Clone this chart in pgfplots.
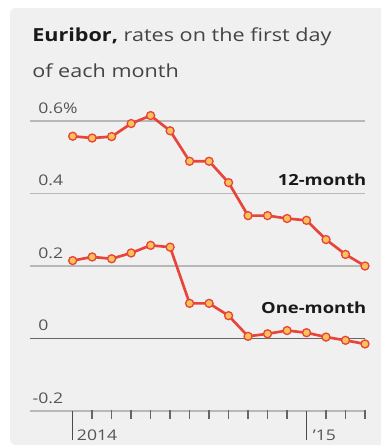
\documentclass[border=0pt]{standalone}
\usepackage{fontspec}
\setmainfont{Open Sans}[FakeStretch=1.2]
\usepackage{pgfplots}
\pgfplotsset{compat=1.18}
\definecolor{bg}{HTML}{F0F0F0}
\definecolor{linered}{HTML}{E8443A}
\definecolor{markfill}{HTML}{F9C358}
\definecolor{gridc}{HTML}{B8B8B8}
\definecolor{tickc}{HTML}{555555}
\definecolor{titlec}{HTML}{444444}
\begin{document}
\begin{tikzpicture}
\useasboundingbox (0pt,0pt) rectangle (285pt,-335.25pt);
\fill[bg,rounded corners=4.5pt] (7.5pt,-6pt) rectangle (295pt,-333.75pt);
\node[anchor=base west, inner sep=0, text=titlec, font=\fontsize{13.5}{16}\selectfont] at (24pt,-30.75pt) {\textcolor{black!90}{\textbf{Euribor,}} rates on the first day};
\node[anchor=base west, inner sep=0, text=titlec, font=\fontsize{13.5}{16}\selectfont] at (24pt,-57.75pt) {of each month};
\begin{axis}[
  at={(22.5pt,-308.25pt)}, anchor=south west,
  scale only axis, width=251.25pt, height=217.5pt,
  xmin=-2.19, xmax=15, ymin=-0.2, ymax=0.6,
  clip=false,
  axis line style={draw=none},
  ymajorgrids, grid style={gridc, line width=0.8pt},
  ytick={-0.2,0,0.2,0.4,0.6},
  yticklabels={\llap{-}0.2,0,0.2,0.4,0.6\%},
  yticklabel style={anchor=base west, inner sep=0pt, xshift=6pt, yshift=6pt, text=tickc, font=\fontsize{11}{13}\selectfont},
  ytick pos=left,
  major y tick style={draw=none},
  xtick=\empty,
  unbounded coords=jump,
]
\addplot[color=black!60, line width=0.9pt, forget plot] coordinates {(-2.19,0) (15,0)};
\addplot[color=black!60, line width=1pt, forget plot] coordinates {
(1,-0.196) (1,-0.222) (nan,nan) (2,-0.196) (2,-0.222) (nan,nan)
(3,-0.196) (3,-0.222) (nan,nan) (4,-0.196) (4,-0.222) (nan,nan)
(5,-0.196) (5,-0.222) (nan,nan) (6,-0.196) (6,-0.222) (nan,nan)
(7,-0.196) (7,-0.222) (nan,nan) (8,-0.196) (8,-0.222) (nan,nan)
(9,-0.196) (9,-0.222) (nan,nan) (10,-0.196) (10,-0.222) (nan,nan)
(11,-0.196) (11,-0.222) (nan,nan) (13,-0.196) (13,-0.222) (nan,nan)
(14,-0.196) (14,-0.222) (nan,nan) (15,-0.196) (15,-0.222)};
\addplot[color=black!70, line width=1.1pt, forget plot] coordinates {
(0,-0.2) (0,-0.28) (nan,nan) (12,-0.2) (12,-0.28)};
\addplot[linered, line width=2pt, mark=*, mark size=3pt, mark options={fill=markfill, draw=linered, line width=1pt}] coordinates {
(0,0.558) (1,0.553) (2,0.557) (3,0.593) (4,0.615) (5,0.573) (6,0.489) (7,0.489)
(8,0.430) (9,0.339) (10,0.339) (11,0.331) (12,0.326) (13,0.273) (14,0.232) (15,0.200)};
\addplot[linered, line width=2pt, mark=*, mark size=3pt, mark options={fill=markfill, draw=linered, line width=1pt}] coordinates {
(0,0.215) (1,0.225) (2,0.220) (3,0.236) (4,0.257) (5,0.252) (6,0.097) (7,0.097)
(8,0.063) (9,0.006) (10,0.013) (11,0.022) (12,0.016) (13,0.004) (14,-0.005) (15,-0.015)};
\node[anchor=base east, inner sep=0, xshift=1.2pt, font=\bfseries\fontsize{11.5}{13}\selectfont, text=black!90] at (axis cs:15,0.4234) {12-month};
\node[anchor=base east, inner sep=0, xshift=1.2pt, font=\bfseries\fontsize{11.5}{13}\selectfont, text=black!90] at (axis cs:15,0.069) {One-month};
\node[anchor=base west, inner sep=0, xshift=3pt, yshift=-21.75pt, text=tickc, font=\fontsize{11}{13}\selectfont] at (axis cs:0,-0.2) {2014};
\node[anchor=base west, inner sep=0, xshift=4.5pt, yshift=-21.75pt, text=tickc, font=\fontsize{11}{13}\selectfont] at (axis cs:12,-0.2) {'15};
\end{axis}
\end{tikzpicture}
\end{document}
